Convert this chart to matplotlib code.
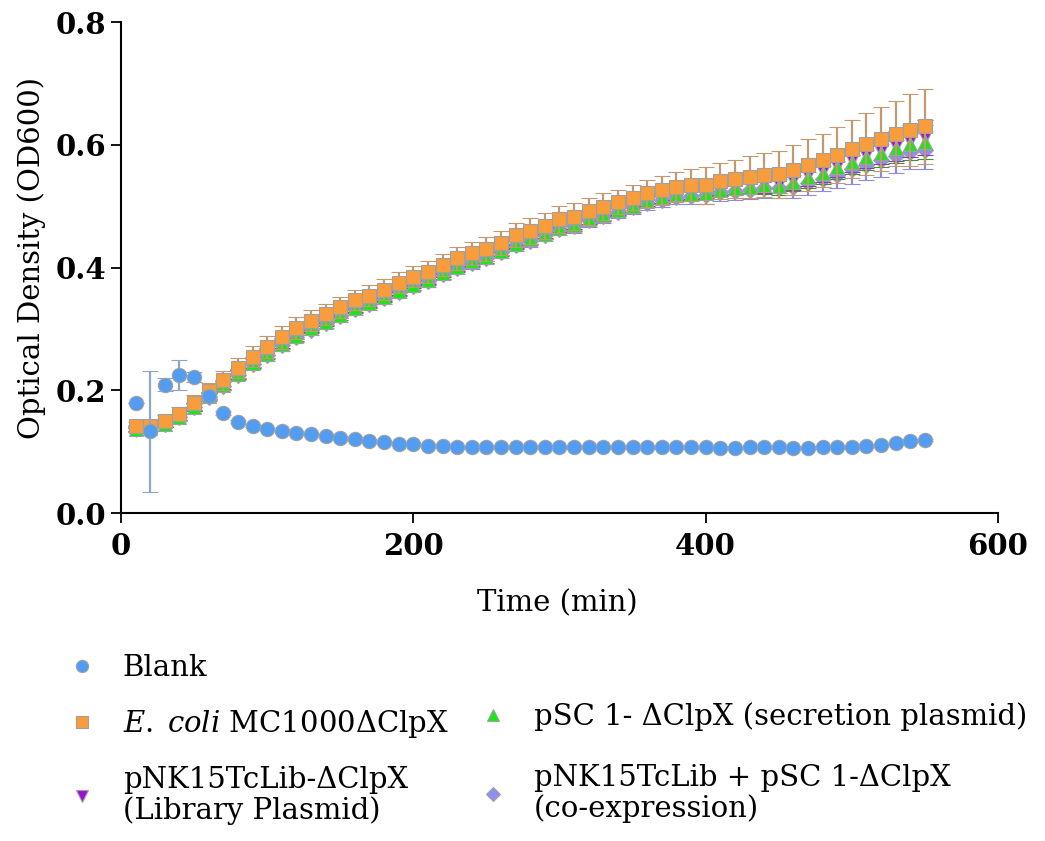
import matplotlib
matplotlib.use("Agg")
import matplotlib.pyplot as plt

plt.rcParams['font.family'] = ['DejaVu Serif']
plt.rcParams['mathtext.fontset'] = 'dejavuserif'

# Sampling times (min)
time_min = list(range(10, 551, 10))

# Mean OD600 readings
blank = [0.179, 0.133, 0.209, 0.225, 0.222, 0.190, 0.163, 0.149, 0.142, 0.137,
         0.134, 0.131, 0.129, 0.126, 0.123, 0.120, 0.118, 0.115, 0.113, 0.112,
         0.110, 0.109, 0.108, 0.108, 0.107, 0.107, 0.107, 0.107, 0.107, 0.107,
         0.107, 0.107, 0.107, 0.107, 0.107, 0.107, 0.107, 0.107, 0.107, 0.107,
         0.106, 0.106, 0.107, 0.107, 0.107, 0.106, 0.106, 0.107, 0.107, 0.108,
         0.109, 0.111, 0.114, 0.117, 0.119]
ecoli = [0.141, 0.142, 0.150, 0.162, 0.180, 0.198, 0.216, 0.236, 0.255, 0.270,
         0.286, 0.301, 0.313, 0.324, 0.335, 0.347, 0.354, 0.364, 0.375, 0.385,
         0.393, 0.404, 0.415, 0.423, 0.430, 0.440, 0.453, 0.459, 0.468, 0.479,
         0.483, 0.492, 0.499, 0.507, 0.514, 0.521, 0.526, 0.532, 0.534, 0.534,
         0.541, 0.544, 0.548, 0.551, 0.552, 0.559, 0.567, 0.575, 0.583, 0.593,
         0.601, 0.610, 0.618, 0.624, 0.630]
library = [0.136, 0.137, 0.145, 0.156, 0.174, 0.191, 0.209, 0.227, 0.246, 0.261,
           0.277, 0.291, 0.303, 0.314, 0.325, 0.336, 0.344, 0.354, 0.364, 0.374,
           0.382, 0.393, 0.403, 0.412, 0.419, 0.429, 0.441, 0.448, 0.457, 0.467,
           0.472, 0.481, 0.488, 0.496, 0.503, 0.510, 0.515, 0.520, 0.522, 0.523,
           0.529, 0.532, 0.534, 0.536, 0.536, 0.543, 0.550, 0.557, 0.566, 0.575,
           0.583, 0.590, 0.598, 0.606, 0.612]
secretion = [0.137, 0.138, 0.145, 0.156, 0.173, 0.190, 0.208, 0.226, 0.244, 0.259,
             0.275, 0.289, 0.301, 0.312, 0.323, 0.334, 0.342, 0.352, 0.362, 0.372,
             0.380, 0.391, 0.401, 0.410, 0.417, 0.427, 0.439, 0.446, 0.455, 0.465,
             0.470, 0.479, 0.486, 0.494, 0.501, 0.508, 0.513, 0.518, 0.520, 0.521,
             0.527, 0.530, 0.532, 0.534, 0.533, 0.540, 0.547, 0.554, 0.563, 0.572,
             0.580, 0.586, 0.594, 0.601, 0.605]
coexpr = [0.138, 0.138, 0.145, 0.156, 0.172, 0.189, 0.207, 0.225, 0.243, 0.257,
          0.273, 0.287, 0.299, 0.310, 0.321, 0.332, 0.340, 0.350, 0.360, 0.370,
          0.378, 0.389, 0.399, 0.408, 0.415, 0.425, 0.437, 0.444, 0.453, 0.463,
          0.468, 0.477, 0.484, 0.491, 0.498, 0.505, 0.510, 0.515, 0.517, 0.518,
          0.523, 0.525, 0.527, 0.529, 0.529, 0.532, 0.537, 0.545, 0.551, 0.560,
          0.567, 0.575, 0.581, 0.589, 0.591]

# Standard deviations
blank_err = [0.000, 0.099, 0.011, 0.024, 0.008, 0.004, 0.003, 0.002, 0.002, 0.002,
             0.002, 0.002, 0.002, 0.002, 0.002, 0.002, 0.002, 0.002, 0.002, 0.002,
             0.002, 0.002, 0.002, 0.002, 0.002, 0.002, 0.002, 0.002, 0.002, 0.002,
             0.002, 0.002, 0.002, 0.002, 0.002, 0.002, 0.002, 0.002, 0.002, 0.002,
             0.002, 0.002, 0.002, 0.002, 0.002, 0.002, 0.002, 0.002, 0.002, 0.002,
             0.002, 0.002, 0.002, 0.002, 0.002]
ecoli_err = [0.008, 0.008, 0.009, 0.010, 0.012, 0.014, 0.015, 0.016, 0.017, 0.018,
             0.018, 0.018, 0.017, 0.017, 0.017, 0.017, 0.017, 0.017, 0.017, 0.017,
             0.018, 0.018, 0.019, 0.019, 0.019, 0.020, 0.020, 0.021, 0.021, 0.022,
             0.022, 0.022, 0.022, 0.020, 0.020, 0.022, 0.023, 0.023, 0.026, 0.030,
             0.030, 0.031, 0.034, 0.036, 0.038, 0.041, 0.042, 0.043, 0.046, 0.047,
             0.051, 0.052, 0.053, 0.058, 0.061]
library_err = [0.004, 0.004, 0.005, 0.005, 0.006, 0.006, 0.007, 0.007, 0.008, 0.008,
               0.008, 0.008, 0.008, 0.008, 0.008, 0.008, 0.008, 0.008, 0.008, 0.008,
               0.009, 0.009, 0.009, 0.009, 0.009, 0.009, 0.009, 0.009, 0.009, 0.009,
               0.010, 0.010, 0.010, 0.010, 0.010, 0.010, 0.010, 0.010, 0.010, 0.010,
               0.011, 0.012, 0.013, 0.014, 0.015, 0.016, 0.017, 0.018, 0.019, 0.020,
               0.021, 0.022, 0.024, 0.026, 0.028]
secretion_err = [0.004, 0.004, 0.005, 0.005, 0.006, 0.006, 0.007, 0.007, 0.008, 0.008,
                 0.008, 0.008, 0.008, 0.008, 0.008, 0.008, 0.008, 0.008, 0.008, 0.008,
                 0.009, 0.009, 0.009, 0.009, 0.009, 0.009, 0.009, 0.009, 0.009, 0.009,
                 0.010, 0.010, 0.010, 0.010, 0.010, 0.010, 0.010, 0.010, 0.010, 0.010,
                 0.011, 0.012, 0.013, 0.014, 0.015, 0.016, 0.017, 0.018, 0.019, 0.020,
                 0.021, 0.022, 0.024, 0.026, 0.028]
coexpr_err = [0.005, 0.005, 0.005, 0.006, 0.006, 0.007, 0.007, 0.008, 0.008, 0.009,
              0.009, 0.009, 0.009, 0.009, 0.009, 0.009, 0.009, 0.009, 0.009, 0.009,
              0.010, 0.010, 0.010, 0.010, 0.010, 0.010, 0.010, 0.010, 0.010, 0.010,
              0.011, 0.011, 0.011, 0.011, 0.011, 0.012, 0.012, 0.012, 0.013, 0.014,
              0.015, 0.015, 0.016, 0.016, 0.016, 0.018, 0.019, 0.021, 0.022, 0.024,
              0.025, 0.027, 0.027, 0.028, 0.031]

labels = {
    'blank': 'Blank',
    'ecoli': r'$\it{E.\;coli}$ MC1000ΔClpX',
    'library': 'pNK15TcLib-ΔClpX\n(Library Plasmid)',
    'secretion': 'pSC 1- ΔClpX (secretion plasmid)',
    'coexpr': 'pNK15TcLib + pSC 1-ΔClpX\n(co-expression)',
}

fig = plt.figure(figsize=(10.45, 8.41), dpi=100)
ax = fig.add_axes([0.1158, 0.3900, 0.8392, 0.5838])

# (key, values, errors, marker, size, face, error colour), drawn bottom to top
series = [
    ('coexpr', coexpr, coexpr_err, 'D', 8.0, '#8f8ff0', '#8c8cd8'),
    ('library', library, library_err, 'v', 9.5, '#9b10d8', '#8a3fb0'),
    ('secretion', secretion, secretion_err, '^', 9.5, '#18e818', '#3d8f3d'),
    ('ecoli', ecoli, ecoli_err, 's', 10.0, '#f89c3c', '#c39a70'),
    ('blank', blank, blank_err, 'o', 10.3, '#529cf2', '#8ea5c8'),
]

handles = {}
for z, (key, vals, errs, mk, ms, face, ecol) in enumerate(series):
    cont = ax.errorbar(time_min, vals, yerr=errs, fmt=mk, ms=ms,
                       mfc=face, mec='#a0a0a0', mew=0.8,
                       ecolor=ecol, elinewidth=1.6, capsize=6, capthick=1.6,
                       zorder=3 + z)
    handles[key] = cont.lines[0]

ax.set_xlim(0, 600)
ax.set_ylim(0, 0.8)
ax.set_xticks([0, 200, 400, 600])
ax.set_yticks([0.0, 0.2, 0.4, 0.6, 0.8])
ax.set_yticklabels([f'{v:.1f}' for v in [0.0, 0.2, 0.4, 0.6, 0.8]])

for side in ('top', 'right'):
    ax.spines[side].set_visible(False)
for side in ('left', 'bottom'):
    ax.spines[side].set_linewidth(1.5)

ax.tick_params(axis='both', direction='out', length=7.5, width=1.3,
               labelsize=21)
ax.tick_params(axis='y', pad=3)
ax.tick_params(axis='x', pad=6)
for lbl in ax.get_xticklabels() + ax.get_yticklabels():
    lbl.set_fontweight('bold')

ax.set_xlabel('Time (min)', fontsize=21)
ax.set_ylabel('Optical Density (OD600)', fontsize=21)
ax.xaxis.set_label_coords(0.498, -0.155)
ax.yaxis.set_label_coords(-0.086, 0.52)

leg_kw = dict(frameon=False, borderpad=0, borderaxespad=0, handlelength=1.0,
              handletextpad=0.9, fontsize=21, markerscale=0.85,
              bbox_transform=fig.transFigure, loc='upper left')

keys1 = ['blank', 'ecoli', 'library']
leg1 = fig.legend([handles[k] for k in keys1], [labels[k] for k in keys1],
                  bbox_to_anchor=(0.0646, 0.2224), labelspacing=0.89, **leg_kw)
keys2 = ['secretion', 'coexpr']
leg2 = fig.legend([handles[k] for k in keys2], [labels[k] for k in keys2],
                  bbox_to_anchor=(0.458, 0.1653), labelspacing=1.13, **leg_kw)
for leg in (leg1, leg2):
    for t in leg.get_texts():
        t.set_linespacing(1.12)

fig.savefig('out.png', dpi=100)
